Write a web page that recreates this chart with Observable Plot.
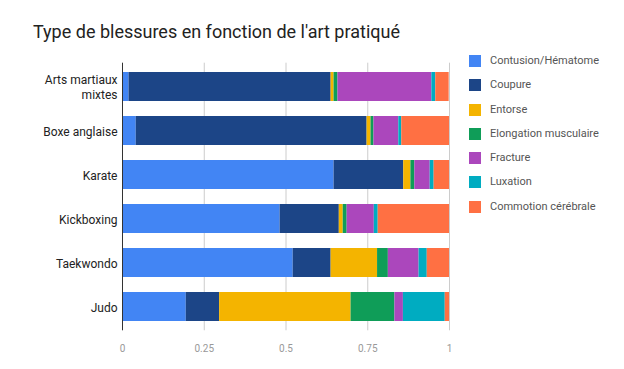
<!DOCTYPE html>
<html><head><meta charset="utf-8">
<script src="https://cdn.jsdelivr.net/npm/d3@7"></script>
<script src="https://cdn.jsdelivr.net/npm/@observablehq/plot@0.6"></script>
<style>
body{margin:0;background:#fff;font-family:Roboto,sans-serif;}
#wrap{position:relative;width:624px;height:369px;}
#title{position:absolute;left:33px;top:22.5px;font-size:18px;line-height:18px;color:#222;white-space:nowrap;}
#legend{position:absolute;left:469px;top:55px;font-size:11px;color:#555;}
.li{position:relative;height:24.3px;}
.sw{position:absolute;left:0;top:0;width:12px;height:12px;}
.lt{position:absolute;left:21px;top:-1px;white-space:nowrap;line-height:14px;}
#chart{position:absolute;left:0;top:0;}
</style></head><body>
<div id="wrap"><div id="chart"></div><div id="title">Type de blessures en fonction de l'art pratiqué</div><div id="legend"></div></div>
<script>
const categories = ["Arts martiaux mixtes","Boxe anglaise","Karate","Kickboxing","Taekwondo","Judo"];
const series = ["Contusion/Hématome","Coupure","Entorse","Elongation musculaire","Fracture","Luxation","Commotion cérébrale"];
const colors = ["#4285F4","#1C4587","#F4B400","#0F9D58","#AB47BC","#00ACC1","#FF7043"];
const contusion = [0.020,0.042,0.647,0.482,0.522,0.195];
const coupure   = [0.618,0.706,0.213,0.181,0.116,0.102];
const entorse   = [0.009,0.012,0.022,0.012,0.142,0.402];
const elongation= [0.012,0.009,0.012,0.012,0.033,0.134];
const fracture  = [0.287,0.076,0.047,0.083,0.094,0.026];
const luxation  = [0.012,0.009,0.012,0.012,0.025,0.128];
const commotion = [0.041,0.146,0.047,0.218,0.068,0.013];
const xTicks = [0,0.25,0.5,0.75,1];
const xTickLabels = ["0","0.25","0.5","0.75","1"];

const seriesValues = [contusion,coupure,entorse,elongation,fracture,luxation,commotion];
const data = [];
series.forEach((s,i)=>categories.forEach((c,j)=>data.push({cat:c,type:s,value:seriesValues[i][j]})));
const yFmt = d=>d==="Arts martiaux mixtes"?"Arts martiaux\nmixtes":d;

const chart = Plot.plot({
  width:624, height:369,
  marginLeft:122, marginRight:175, marginTop:62.7, marginBottom:38.7,
  style:{fontFamily:"Roboto,sans-serif", background:"#fff"},
  x:{domain:[0,1], ticks:xTicks, label:null},
  y:{domain:categories, label:null, paddingInner:0.35, paddingOuter:0.175},
  color:{domain:series, range:colors},
  marks:[
    Plot.ruleX(xTicks.filter(d=>d>0),{stroke:"#ccc",strokeWidth:1}),
    Plot.barX(data,{y:"cat",x:"value",fill:"type",order:series}),
    Plot.ruleX([0],{stroke:"#333",strokeWidth:1}),
    Plot.axisX({ticks:xTicks, tickSize:0, tickPadding:14, fill:"#999", fontSize:10, label:null, tickFormat:(d)=>xTickLabels[xTicks.indexOf(d)]}),
    Plot.axisY({tickSize:0, tickPadding:5, fill:"#222", fontSize:12, lineHeight:1.2, label:null, tickFormat:yFmt})
  ]
});
document.getElementById("chart").appendChild(chart);

const lg = document.getElementById("legend");
series.forEach((s,i)=>{
  const row=document.createElement("div");row.className="li";
  row.innerHTML=`<div class="sw" style="background:${colors[i]}"></div><div class="lt">${s}</div>`;
  lg.appendChild(row);
});
</script></body></html>
